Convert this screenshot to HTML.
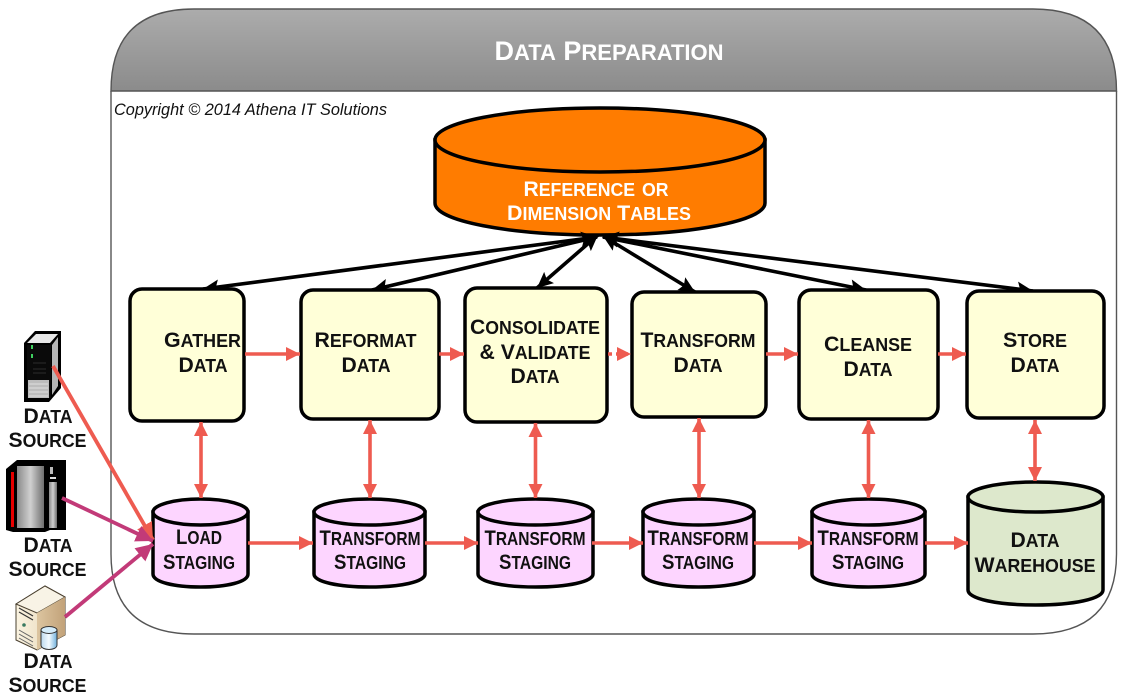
<!DOCTYPE html>
<html><head><meta charset="utf-8"><title>Data Preparation</title>
<style>
html,body{margin:0;padding:0;background:#fff;width:1121px;height:700px;overflow:hidden}
svg{display:block}
text{font-family:"Liberation Sans",sans-serif;font-weight:bold;text-anchor:middle;fill:#111;font-size:21.5px}
.s{font-size:25.5px;font-variant:small-caps}
.w{fill:#fff}
.box{fill:#ffffd8;stroke:#000;stroke-width:3.5}
.cyl{fill:#fdd5ff;stroke:#000;stroke-width:3.5}
.dw{fill:#dde8cc;stroke:#000;stroke-width:3.5}
.or{fill:#ff7c00;stroke:#000;stroke-width:3.5}
.h{stroke:#ee5b50;stroke-width:3.6;fill:none;marker-end:url(#rh)}
.v{stroke:#ee5b50;stroke-width:3.6;fill:none;marker-end:url(#rh);marker-start:url(#rh)}
.k{stroke:#000;stroke-width:3.6;fill:none;marker-end:url(#kh);marker-start:url(#kh)}
</style></head>
<body>
<svg width="1121" height="700" viewBox="0 0 1121 700" xmlns="http://www.w3.org/2000/svg">
<defs>
<linearGradient id="hg" x1="0" y1="0" x2="0" y2="1"><stop offset="0" stop-color="#acacac"/><stop offset="1" stop-color="#8b8b8b"/></linearGradient>
<linearGradient id="sg" x1="0" y1="0" x2="1" y2="0"><stop offset="0" stop-color="#8a8a8a"/><stop offset=".5" stop-color="#d0d0d0"/><stop offset="1" stop-color="#6e6e6e"/></linearGradient>
<linearGradient id="bg" x1="0" y1="0" x2="1" y2="0"><stop offset="0" stop-color="#bcd9ee"/><stop offset=".5" stop-color="#f4fbff"/><stop offset="1" stop-color="#6fb0dc"/></linearGradient>
<linearGradient id="tg" x1="0" y1="0" x2="1" y2="0"><stop offset="0" stop-color="#fbf4e2"/><stop offset="1" stop-color="#e2d0ae"/></linearGradient>
<linearGradient id="tg2" x1="0" y1="0" x2="1" y2="0"><stop offset="0" stop-color="#dcc5a0"/><stop offset="1" stop-color="#c2a279"/></linearGradient>
<marker id="rh" markerUnits="userSpaceOnUse" markerWidth="15" markerHeight="15" refX="14" refY="7.5" orient="auto-start-reverse"><path d="M0,0.5 L14,7.5 L0,14.500 Z" fill="#ee5b50"/></marker>
<marker id="kh" markerUnits="userSpaceOnUse" markerWidth="17" markerHeight="16" refX="16" refY="8" orient="auto-start-reverse"><path d="M0,0.5 L16,8 L0,15.5 L3,8 Z" fill="#000"/></marker>
<marker id="ph" markerUnits="userSpaceOnUse" markerWidth="18" markerHeight="18" refX="17" refY="9" orient="auto"><path d="M0,0.5 L17,9 L0,17.5 Z" fill="#c23a78"/></marker>
<marker id="oh" markerUnits="userSpaceOnUse" markerWidth="18" markerHeight="18" refX="17" refY="9" orient="auto"><path d="M0,0.5 L17,9 L0,17.5 Z" fill="#ee5b50"/></marker>
</defs>

<!-- Container -->
<path d="M111,91 V554 Q111,634 194,634 H1033 Q1116.500,634 1116.500,554 V91" fill="#fff" stroke="#555" stroke-width="1.400"/>
<path d="M111,91 Q111,9 194,9 H1033 Q1116.500,9 1116.500,91 Z" fill="url(#hg)" stroke="#555" stroke-width="1.400"/>
<text class="w" x="609" y="60" style="font-size:27px" textLength="229" lengthAdjust="spacingAndGlyphs">D<tspan style="font-size:31px;font-variant:small-caps">ata</tspan> P<tspan style="font-size:31px;font-variant:small-caps">reparation</tspan></text>
<text x="114" y="115" style="font-size:16.500px;font-weight:normal;font-style:italic;text-anchor:start" textLength="273" lengthAdjust="spacingAndGlyphs">Copyright © 2014 Athena IT Solutions</text>

<!-- Reference cylinder -->
<path class="or" d="M435,140 V203 C435,221 509,235 600,235 C691,235 765,221 765,203 V140 Z"/>
<ellipse class="or" cx="600" cy="140" rx="165" ry="32"/>
<text class="w" x="596" y="196" textLength="145" lengthAdjust="spacingAndGlyphs">R<tspan class="s">eference or</tspan></text>
<text class="w" x="599" y="220" textLength="184" lengthAdjust="spacingAndGlyphs">D<tspan class="s">imension</tspan> T<tspan class="s">ables</tspan></text>

<!-- Black connectors -->
<path class="k" d="M597,237 L203,289"/>
<path class="k" d="M597,237 L372,290"/>
<path class="k" d="M598,235 L537,288"/>
<path class="k" d="M603,236 L695,292"/>
<path class="k" d="M603,237 L866,290"/>
<path class="k" d="M603,237 L1033,291"/>

<!-- Yellow boxes -->
<rect class="box" x="130" y="289" width="114" height="132" rx="12"/>
<rect class="box" x="301" y="290" width="138" height="129" rx="12"/>
<rect class="box" x="465" y="288" width="142" height="134" rx="12"/>
<rect class="box" x="632" y="292" width="134" height="125" rx="12"/>
<rect class="box" x="799" y="290" width="139" height="129" rx="12"/>
<rect class="box" x="967" y="291" width="137" height="127" rx="12"/>

<text x="202.500" y="347" textLength="77" lengthAdjust="spacingAndGlyphs">G<tspan class="s">ather</tspan></text>
<text x="203" y="372" textLength="49" lengthAdjust="spacingAndGlyphs">D<tspan class="s">ata</tspan></text>
<text x="365.500" y="347" textLength="102" lengthAdjust="spacingAndGlyphs">R<tspan class="s">eformat</tspan></text>
<text x="366" y="372" textLength="49" lengthAdjust="spacingAndGlyphs">D<tspan class="s">ata</tspan></text>
<text x="535" y="334" textLength="130" lengthAdjust="spacingAndGlyphs">C<tspan class="s">onsolidate</tspan></text>
<text x="535" y="359" textLength="111" lengthAdjust="spacingAndGlyphs">&amp; V<tspan class="s">alidate</tspan></text>
<text x="535" y="383" textLength="49" lengthAdjust="spacingAndGlyphs">D<tspan class="s">ata</tspan></text>
<text x="698" y="347" textLength="115" lengthAdjust="spacingAndGlyphs">T<tspan class="s">ransform</tspan></text>
<text x="698" y="372" textLength="49" lengthAdjust="spacingAndGlyphs">D<tspan class="s">ata</tspan></text>
<text x="868" y="351" textLength="88" lengthAdjust="spacingAndGlyphs">C<tspan class="s">leanse</tspan></text>
<text x="868" y="376" textLength="49" lengthAdjust="spacingAndGlyphs">D<tspan class="s">ata</tspan></text>
<text x="1035" y="347" textLength="64" lengthAdjust="spacingAndGlyphs">S<tspan class="s">tore</tspan></text>
<text x="1035" y="372" textLength="49" lengthAdjust="spacingAndGlyphs">D<tspan class="s">ata</tspan></text>

<!-- Pink cylinders -->
<path class="cyl" d="M153,512 V574 C153,582 174,587 200.500,587 C227,587 248,582 248,574 V512 Z"/><ellipse class="cyl" cx="200.500" cy="512" rx="47.500" ry="13"/>
<path class="cyl" d="M314,512 V574 C314,582 339,587 369.500,587 C400,587 425,582 425,574 V512 Z"/><ellipse class="cyl" cx="369.500" cy="512" rx="55.500" ry="13"/>
<path class="cyl" d="M478,512 V574 C478,582 504,587 535.500,587 C567,587 593,582 593,574 V512 Z"/><ellipse class="cyl" cx="535.500" cy="512" rx="57.500" ry="13"/>
<path class="cyl" d="M643,512 V574 C643,582 668,587 698.500,587 C729,587 754,582 754,574 V512 Z"/><ellipse class="cyl" cx="698.500" cy="512" rx="55.500" ry="13"/>
<path class="cyl" d="M812,512 V574 C812,582 837,587 868.500,587 C900,587 925,582 925,574 V512 Z"/><ellipse class="cyl" cx="868.500" cy="512" rx="56.500" ry="13"/>
<path class="dw" d="M968,497 V590 C968,599 998,605 1035.500,605 C1073,605 1103,599 1103,590 V497 Z"/><ellipse class="dw" cx="1035.500" cy="497" rx="67.500" ry="15"/>

<text x="199" y="544" textLength="46" lengthAdjust="spacingAndGlyphs">L<tspan class="s">oad</tspan></text>
<text x="199" y="569" textLength="72" lengthAdjust="spacingAndGlyphs">S<tspan class="s">taging</tspan></text>
<text x="370" y="545" textLength="101" lengthAdjust="spacingAndGlyphs">T<tspan class="s">ransform</tspan></text>
<text x="370" y="569" textLength="72" lengthAdjust="spacingAndGlyphs">S<tspan class="s">taging</tspan></text>
<text x="535" y="545" textLength="101" lengthAdjust="spacingAndGlyphs">T<tspan class="s">ransform</tspan></text>
<text x="535" y="569" textLength="72" lengthAdjust="spacingAndGlyphs">S<tspan class="s">taging</tspan></text>
<text x="698" y="545" textLength="101" lengthAdjust="spacingAndGlyphs">T<tspan class="s">ransform</tspan></text>
<text x="698" y="569" textLength="72" lengthAdjust="spacingAndGlyphs">S<tspan class="s">taging</tspan></text>
<text x="868" y="545" textLength="101" lengthAdjust="spacingAndGlyphs">T<tspan class="s">ransform</tspan></text>
<text x="868" y="569" textLength="72" lengthAdjust="spacingAndGlyphs">S<tspan class="s">taging</tspan></text>
<text x="1035" y="547" textLength="49" lengthAdjust="spacingAndGlyphs">D<tspan class="s">ata</tspan></text>
<text x="1035" y="572" textLength="121" lengthAdjust="spacingAndGlyphs">W<tspan class="s">arehouse</tspan></text>

<!-- Red connectors, top row -->
<path class="h" d="M245,354 H300"/>
<path class="h" d="M439,354 H464"/>
<path class="h" d="M608,354 H631" stroke-dasharray="4 4"/>
<path class="h" d="M766,354 H798"/>
<path class="h" d="M938,354 H966"/>
<!-- Red connectors, bottom row -->
<path class="h" d="M248,543 H313"/>
<path class="h" d="M425,543 H478"/>
<path class="h" d="M592,543 H643"/>
<path class="h" d="M754,543 H812"/>
<path class="h" d="M925,543 H968"/>
<!-- Vertical connectors -->
<path class="v" d="M201,422 V498"/>
<path class="v" d="M370,420 V498"/>
<path class="v" d="M535.500,423 V498"/>
<path class="v" d="M699,418 V498"/>
<path class="v" d="M868.500,420 V498"/>
<path class="v" d="M1035,420 V481"/>

<!-- Source icon 1 -->
<g>
<path d="M24,343 L35,331 H61 V388 L49,402 H24 Z" fill="#000"/>
<path d="M27,343 L36,334 H58 L50,343 Z" fill="#e8e8e8"/>
<path d="M52,345 L58,337 V386 L52,395 Z" fill="#b5b5b5"/>
<rect x="27" y="345" width="24" height="53" fill="#0a0a0a"/>
<rect x="31" y="345" width="2" height="4" fill="#3fd060"/>
<rect x="31" y="354" width="2" height="4" fill="#3fd060"/>
<path d="M33,363 H46 M33,369 H46 M33,373 H46" stroke="#2c2c2c" stroke-width="1"/>
<rect x="28" y="380" width="21" height="18" fill="#bdbdbd"/>
<path d="M29,384 H48 M29,388 H48 M29,392 H48 M29,396 H48" stroke="#e0e0e0" stroke-width="1"/>
</g>
<!-- Source icon 2 -->
<g>
<path d="M6,469 L17,460 H66 V530 H50 L45,532 H13 L6,530 Z" fill="#000"/>
<rect x="11" y="472" width="3" height="55" fill="#e80000"/>
<rect x="17" y="466" width="27" height="62" fill="url(#sg)"/>
<rect x="49" y="482" width="8" height="46" fill="url(#sg)"/>
<rect x="50" y="467" width="3" height="7" fill="#bbb"/>
<rect x="50" y="477" width="6" height="2" fill="#ddd"/>
</g>
<!-- Source icon 3 -->
<g>
<path d="M16,604 L45,586 L65,597 V635 L37,650 L16,640 Z" fill="url(#tg)" stroke="#4a4030" stroke-width="1"/>
<path d="M16,604 L45,586 L65,597 L37,613 Z" fill="#f8f3e6" stroke="#4a4030" stroke-width="1"/>
<path d="M37,613 L65,597 V635 L37,650 Z" fill="url(#tg2)"/>
<path d="M19,608 L33,616 M19,612 L33,620" stroke="#333" stroke-width="1.200"/>
<path d="M19,630 L33,638 M19,634 L33,642 M19,638 L33,646" stroke="#666" stroke-width="1"/>
<circle cx="24" cy="625" r="1.800" fill="#3a7a60"/>
<path d="M41,630 V645 C41,651 57,651 57,645 V630 Z" fill="url(#bg)" stroke="#333" stroke-width="1"/>
<ellipse cx="49" cy="630" rx="8" ry="3.500" fill="#d4ecfa" stroke="#333" stroke-width="1"/>
</g>

<!-- Source arrows -->
<path d="M53,366 L153,540" stroke="#ee5b50" stroke-width="3.800" fill="none" marker-end="url(#oh)"/>
<path d="M62,498 L153,541" stroke="#c23a78" stroke-width="3.800" fill="none" marker-end="url(#ph)"/>
<path d="M65,617 L153,544" stroke="#c23a78" stroke-width="3.800" fill="none" marker-end="url(#ph)"/>

<!-- Source labels -->
<text x="48" y="423" textLength="49" lengthAdjust="spacingAndGlyphs">D<tspan class="s">ata</tspan></text>
<text x="47.500" y="447" textLength="78" lengthAdjust="spacingAndGlyphs">S<tspan class="s">ource</tspan></text>
<text x="48" y="552" textLength="49" lengthAdjust="spacingAndGlyphs">D<tspan class="s">ata</tspan></text>
<text x="47.500" y="576" textLength="78" lengthAdjust="spacingAndGlyphs">S<tspan class="s">ource</tspan></text>
<text x="48" y="668" textLength="49" lengthAdjust="spacingAndGlyphs">D<tspan class="s">ata</tspan></text>
<text x="47.500" y="692" textLength="78" lengthAdjust="spacingAndGlyphs">S<tspan class="s">ource</tspan></text>
</svg>
</body></html>
